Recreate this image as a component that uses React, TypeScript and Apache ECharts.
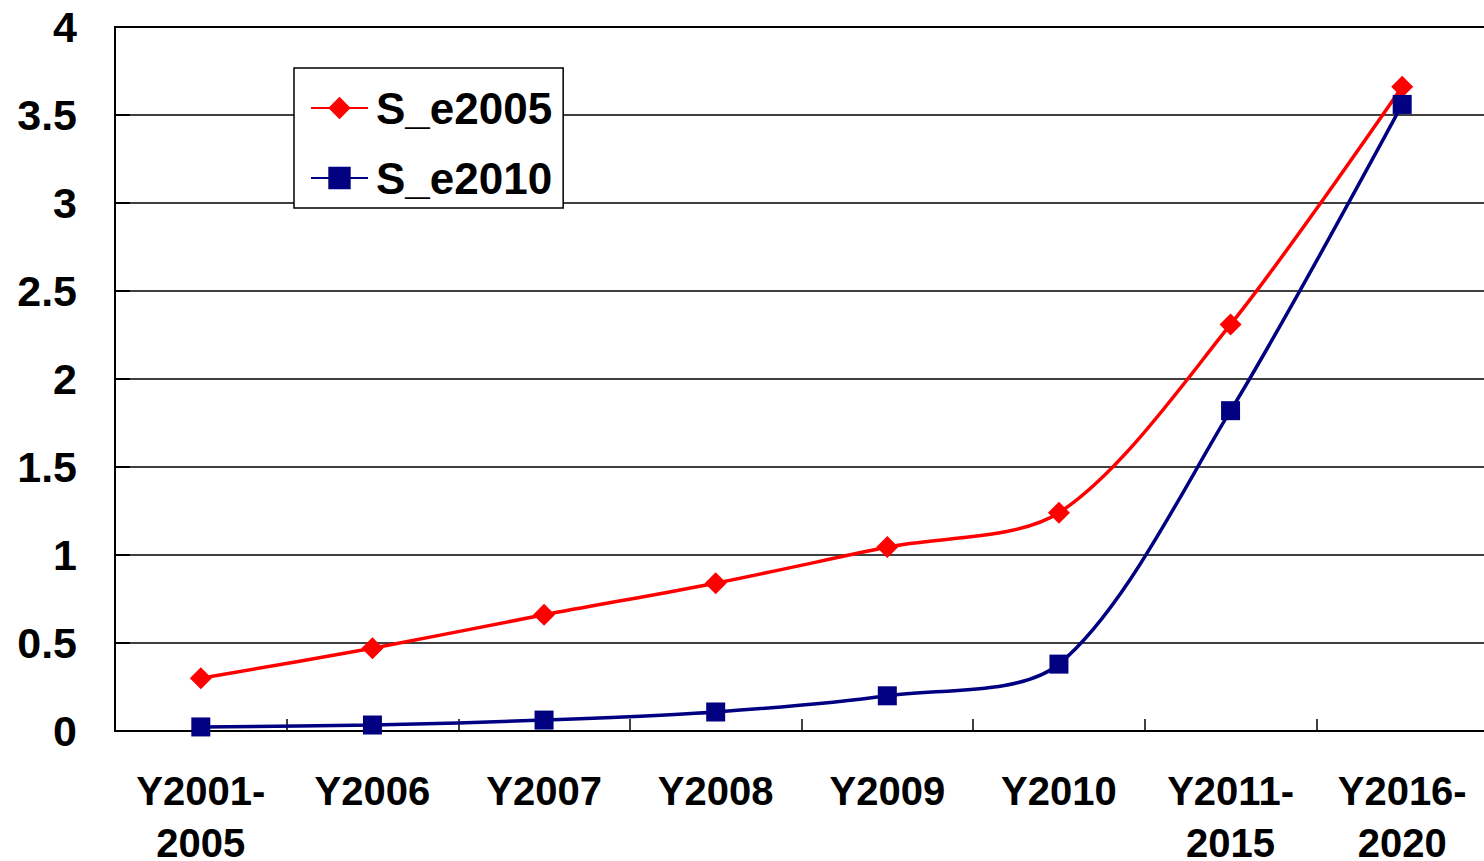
import React, { useEffect, useRef } from "react";
import * as echarts from "echarts";

const categories = [
  "Y2001-\n2005",
  "Y2006",
  "Y2007",
  "Y2008",
  "Y2009",
  "Y2010",
  "Y2011-\n2015",
  "Y2016-\n2020",
];
const sE2005 = [0.3, 0.47, 0.66, 0.84, 1.045, 1.24, 2.31, 3.66];
const sE2010 = [0.023, 0.034, 0.062, 0.108, 0.2, 0.38, 1.82, 3.56];
const yTicks = { min: 0, max: 4, interval: 0.5 };

const FONT = "Arial, 'Liberation Sans', sans-serif";

export default function App() {
  const ref = useRef<HTMLDivElement>(null);

  useEffect(() => {
    if (!ref.current) return;
    const chart = echarts.init(ref.current, undefined, { renderer: "svg" });
    chart.setOption({
      animation: false,
      backgroundColor: "#fff",
      textStyle: { fontFamily: FONT },
      grid: {
        left: 115,
        top: 27,
        width: 1373,
        height: 704,
        outerBoundsMode: "none",
        containLabel: false,
        show: true,
        borderColor: "#000",
        borderWidth: 2,
        backgroundColor: "transparent",
      },
      legend: {
        orient: "vertical",
        left: 294,
        top: 68,
        padding: [15, 11, 5, 16],
        itemGap: 20,
        itemWidth: 57,
        itemHeight: 28,
        backgroundColor: "#fff",
        borderColor: "#000",
        borderWidth: 1.5,
        textStyle: {
          fontFamily: FONT,
          fontSize: 44,
          fontWeight: "bold",
          color: "#000",
          lineHeight: 50,
          padding: [0, 0, 0, 3],
        },
        data: ["S_e2005", "S_e2010"],
      },
      xAxis: {
        type: "category",
        data: categories,
        boundaryGap: true,
        axisLine: { lineStyle: { color: "#000", width: 2 } },
        axisTick: {
          show: true,
          inside: true,
          length: 12,
          lineStyle: { color: "#000", width: 1.5 },
        },
        axisLabel: {
          fontFamily: FONT,
          fontSize: 40,
          fontWeight: "bold",
          color: "#000",
          lineHeight: 52,
          margin: 34,
          interval: 0,
        },
        splitLine: { show: false },
      },
      yAxis: {
        type: "value",
        min: yTicks.min,
        max: yTicks.max,
        interval: yTicks.interval,
        axisLine: { show: true, lineStyle: { color: "#000", width: 2 } },
        axisTick: {
          show: true,
          inside: true,
          length: 15,
          lineStyle: { color: "#000", width: 2 },
        },
        axisLabel: {
          fontFamily: FONT,
          fontSize: 43,
          fontWeight: "bold",
          color: "#000",
          margin: 38,
        },
        splitLine: { show: true, lineStyle: { color: "#000", width: 1.5 } },
      },
      series: [
        {
          name: "S_e2005",
          type: "line",
          data: sE2005,
          smooth: 0.3,
          symbol: "diamond",
          symbolSize: 22,
          color: "#ff0000",
          lineStyle: { color: "#ff0000", width: 3.5 },
          itemStyle: { color: "#ff0000" },
          z: 3,
        },
        {
          name: "S_e2010",
          type: "line",
          data: sE2010,
          smooth: 0.3,
          symbol: "rect",
          symbolSize: 19,
          color: "#000080",
          lineStyle: { color: "#000080", width: 3.5 },
          itemStyle: { color: "#000080" },
          z: 4,
        },
      ],
    });
    return () => chart.dispose();
  }, []);

  return (
    <div
      ref={ref}
      style={{ position: "fixed", left: 0, top: 0, width: 1484, height: 861 }}
    />
  );
}
